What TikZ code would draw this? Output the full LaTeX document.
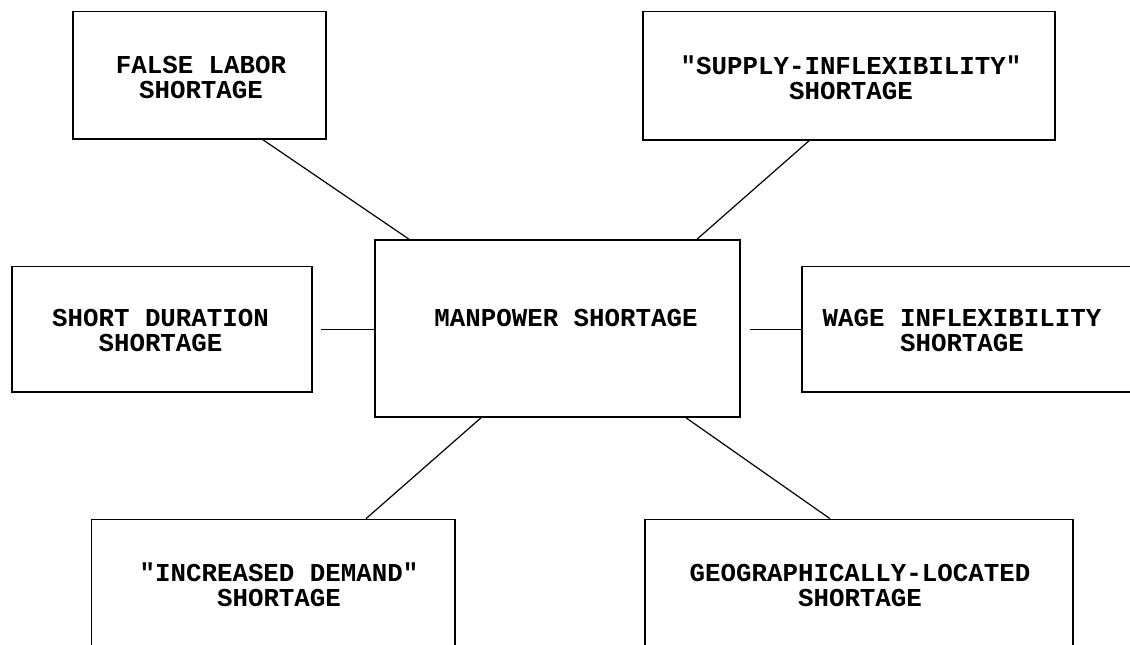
\documentclass[tikz,border=0pt]{standalone}
\usepackage{fontspec}
\setmonofont{Liberation Mono}
\begin{document}
\begin{tikzpicture}[x=1pt,y=-1pt,
  box/.style={draw=black,line width=1.6pt,rectangle,inner sep=0pt},
  lbl/.style={align=center,inner sep=0pt,font=\ttfamily\bfseries\fontsize{25.8}{25}\selectfont},
  conn/.style={draw=black,line width=1.2pt}]
\useasboundingbox (0,0) rectangle (1130,645);
\clip (0,0) rectangle (1130,645);
\node[box,minimum width=253pt,minimum height=127.5pt] (fl) at (199.5,75.25) {};
\node[box,minimum width=412pt,minimum height=128.5pt] (sup) at (849,75.75) {};
\node[box,minimum width=300pt,minimum height=125.5pt] (sd) at (162,329.25) {};
\node[box,minimum width=365pt,minimum height=177pt] (mp) at (557.5,328.5) {};
\node[box,minimum width=338pt,minimum height=125.5pt] (wg) at (971,329.25) {};
\node[box,minimum width=363.5pt,minimum height=140.5pt] (id) at (273.25,589.75) {};
\node[box,minimum width=428pt,minimum height=140.5pt] (geo) at (859,589.75) {};
\node[lbl] (tfl) at (201,77.5) {FALSE LABOR\\SHORTAGE};
\node[lbl] (tsup) at (851,77.5) {"SUPPLY-INFLEXIBILITY"\\SHORTAGE};
\node[lbl] (tsd) at (160.5,330.5) {SHORT DURATION\\SHORTAGE};
\node[lbl] (tmp) at (566,318) {MANPOWER SHORTAGE};
\node[lbl] (twg) at (962,330.5) {WAGE INFLEXIBILITY\\SHORTAGE};
\node[lbl] (tid) at (279,585) {"INCREASED DEMAND"\\SHORTAGE};
\node[lbl] (tgeo) at (860,585) {GEOGRAPHICALLY-LOCATED\\SHORTAGE};
\draw[conn] ([xshift=63.5pt]fl.south) -- ([xshift=-148.5pt]mp.north);
\draw[conn] ([xshift=-40pt]sup.south) -- ([xshift=139.5pt]mp.north);
\draw[conn] ([xshift=8pt]sd.east) -- (mp.west |- sd.east);
\draw[conn] ([xshift=9pt]mp.east |- wg.west) -- (wg.west);
\draw[conn] ([xshift=-76.5pt]mp.south) -- ([xshift=92.75pt]id.north);
\draw[conn] ([xshift=128.5pt]mp.south) -- ([xshift=-29pt]geo.north);
\end{tikzpicture}
\end{document}
